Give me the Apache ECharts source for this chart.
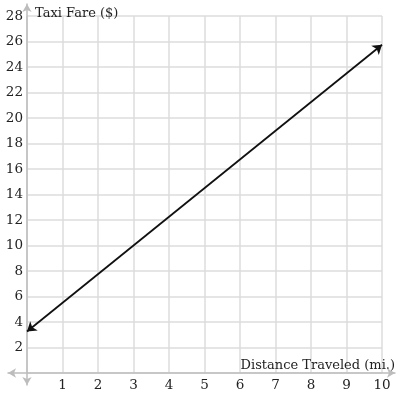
<!DOCTYPE html>
<html><head><meta charset="utf-8">
<script src="https://cdn.jsdelivr.net/npm/echarts@6/dist/echarts.min.js"></script>
<style>html,body{margin:0;padding:0;background:#fff}#c{width:401px;height:394px}</style>
</head><body><div id="c"></div>
<script>
const xTicks = [1,2,3,4,5,6,7,8,9,10];
const yTicks = [2,4,6,8,10,12,14,16,18,20,22,24,26,28];
const lineX = [0, 10];
const lineY = [3.25, 25.75];
const xName = 'Distance Traveled (mi.)';
const yName = 'Taxi Fare ($)';

const font = 'DejaVu Serif';
const chart = echarts.init(document.getElementById('c'), null, {renderer:'canvas'});
const axisGray = '#bdbdbd';
chart.setOption({
  animation:false,
  grid:[
    {left:27,right:19,top:16,bottom:21},
    {left:8,right:6,top:16,bottom:21},
    {left:27,right:19,top:4,bottom:9}
  ],
  xAxis:[
    {gridIndex:0,type:'value',min:0,max:10,interval:1,
     axisLine:{show:false},axisTick:{show:false},
     splitLine:{show:true,lineStyle:{color:'#dcdcdc',width:1.5}},
     axisLabel:{margin:5,color:'#222',fontFamily:font,fontSize:13.5,
       formatter:v=>xTicks.includes(v)?String(v):''}},
    {gridIndex:1,type:'value',min:0,max:1,position:'bottom',
     axisLine:{show:true,symbol:['arrow','arrow'],symbolSize:[7,8],lineStyle:{color:axisGray,width:1.5}},
     axisTick:{show:false},axisLabel:{show:false},splitLine:{show:false},
     name:xName,nameLocation:'end',nameGap:0,
     nameTextStyle:{align:'right',verticalAlign:'bottom',padding:[0,0,1,0],color:'#222',fontFamily:font,fontSize:13}},
    {gridIndex:2,type:'value',min:0,max:1,show:false}
  ],
  yAxis:[
    {gridIndex:0,type:'value',min:0,max:28,interval:2,
     axisLine:{show:false},axisTick:{show:false},
     splitLine:{show:true,lineStyle:{color:'#dcdcdc',width:1.5}},
     axisLabel:{margin:4,color:'#222',fontFamily:font,fontSize:13.5,
       formatter:v=>yTicks.includes(v)?String(v):''}},
    {gridIndex:1,type:'value',min:0,max:1,show:false},
    {gridIndex:2,type:'value',min:0,max:1,position:'left',
     axisLine:{show:true,symbol:['arrow','arrow'],symbolSize:[7,8],lineStyle:{color:axisGray,width:1.5}},
     axisTick:{show:false},axisLabel:{show:false},splitLine:{show:false},
     name:yName,nameLocation:'end',nameGap:-3,
     nameTextStyle:{align:'left',verticalAlign:'top',padding:[0,0,0,8],color:'#222',fontFamily:font,fontSize:13}}
  ],
  series:[{
    type:'lines',coordinateSystem:'cartesian2d',xAxisIndex:0,yAxisIndex:0,
    symbol:['arrow','arrow'],symbolSize:9,
    lineStyle:{color:'#111',width:1.8,opacity:1},
    data:[{coords:[[lineX[0],lineY[0]],[lineX[1],lineY[1]]]}]
  }]
});
</script></body></html>
